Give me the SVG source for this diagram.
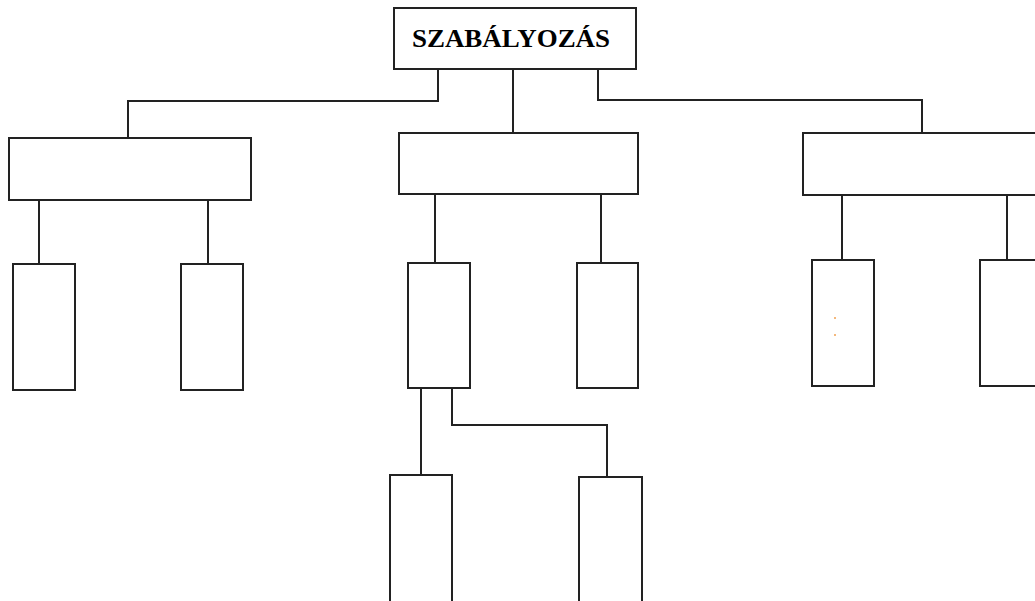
<svg xmlns="http://www.w3.org/2000/svg" width="1035" height="601" viewBox="0 0 1035 601">
<style>
.box{fill:#fff;stroke:#222;stroke-width:2}
.ln{fill:none;stroke:#222;stroke-width:2}
.t{font-family:"Liberation Serif",serif;font-weight:bold;font-size:25px;fill:#000}
</style>
<rect width="1035" height="601" fill="#fff"/>
<g id="connectors">
<polyline class="ln" points="438,69 438,101 128,101 128,138"/>
<line class="ln" x1="513" y1="69" x2="513" y2="133"/>
<polyline class="ln" points="598,69 598,100 922,100 922,133"/>
<line class="ln" x1="39" y1="200" x2="39" y2="264"/>
<line class="ln" x1="208" y1="200" x2="208" y2="264"/>
<line class="ln" x1="435" y1="194" x2="435" y2="263"/>
<line class="ln" x1="601" y1="194" x2="601" y2="263"/>
<line class="ln" x1="842" y1="195" x2="842" y2="260"/>
<line class="ln" x1="1007" y1="195" x2="1007" y2="260"/>
<line class="ln" x1="421" y1="388" x2="421" y2="475"/>
<polyline class="ln" points="452,388 452,425 607,425 607,477"/>
</g>
<g id="root"><rect class="box" x="394" y="8" width="242" height="61"/><text class="t" x="412" y="47" textLength="198" lengthAdjust="spacingAndGlyphs">SZABÁLYOZÁS</text></g>
<g id="n1"><rect class="box" x="9" y="138" width="242" height="62"/></g>
<g id="n2"><rect class="box" x="399" y="133" width="239" height="61"/></g>
<g id="n3"><rect class="box" x="803" y="133" width="240" height="62"/></g>
<g id="n1a"><rect class="box" x="13" y="264" width="62" height="126"/></g>
<g id="n1b"><rect class="box" x="181" y="264" width="62" height="126"/></g>
<g id="n2a"><rect class="box" x="408" y="263" width="62" height="125"/></g>
<g id="n2b"><rect class="box" x="577" y="263" width="61" height="125"/></g>
<g id="n3a"><rect class="box" x="812" y="260" width="62" height="126"/><circle cx="835" cy="318" r="1" fill="#f0a050"/><circle cx="835" cy="335" r="1" fill="#f0a050"/></g>
<g id="n3b"><rect class="box" x="980" y="260" width="70" height="126"/></g>
<g id="n2a1"><rect class="box" x="390" y="475" width="62" height="130"/></g>
<g id="n2a2"><rect class="box" x="579" y="477" width="63" height="130"/></g>
</svg>
